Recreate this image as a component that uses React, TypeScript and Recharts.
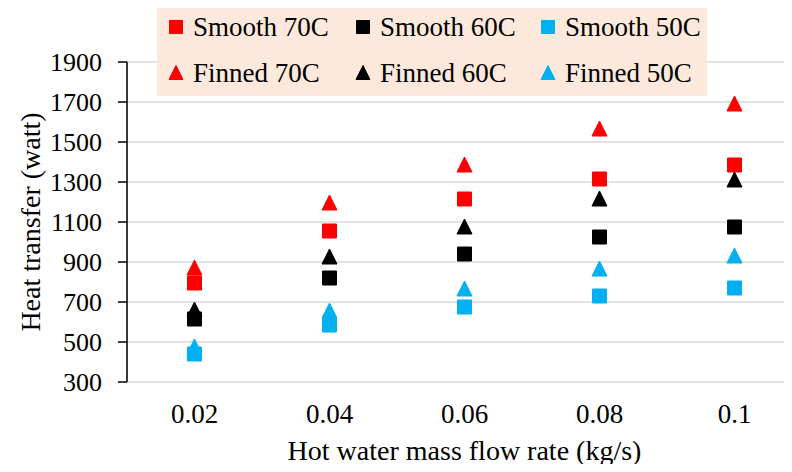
import React from "react";
import {
  ComposedChart,
  Scatter,
  XAxis,
  YAxis,
  CartesianGrid,
} from "recharts";

// flow rate categories (kg/s)
const flowRates = [0.02, 0.04, 0.06, 0.08, 0.1];
// boundaries between categories, where the tick marks and vertical grid sit
const boundaryTicks = [0.01, 0.03, 0.05, 0.07, 0.09, 0.11];
const yTicks = [300, 500, 700, 900, 1100, 1300, 1500, 1700, 1900];

// heat transfer (watt)
const smooth70 = [795, 1055, 1215, 1315, 1385];
const smooth60 = [615, 820, 940, 1025, 1075];
const smooth50 = [440, 585, 675, 730, 770];
const finned70 = [870, 1195, 1385, 1565, 1690];
const finned60 = [660, 925, 1075, 1215, 1310];
const finned50 = [475, 655, 765, 865, 930];

const FONT = "Liberation Serif, serif";

interface Row {
  rate: number;
  smooth70: number;
  smooth60: number;
  smooth50: number;
  finned70: number;
  finned60: number;
  finned50: number;
}

const data: Row[] = flowRates.map((rate, i) => ({
  rate,
  smooth70: smooth70[i],
  smooth60: smooth60[i],
  smooth50: smooth50[i],
  finned70: finned70[i],
  finned60: finned60[i],
  finned50: finned50[i],
}));

type Marker = "square" | "triangle";

const series: { key: keyof Row; name: string; color: string; marker: Marker }[] = [
  { key: "smooth70", name: "Smooth 70C", color: "#FF0000", marker: "square" },
  { key: "smooth60", name: "Smooth 60C", color: "#000000", marker: "square" },
  { key: "smooth50", name: "Smooth 50C", color: "#00B0F0", marker: "square" },
  { key: "finned70", name: "Finned 70C", color: "#FF0000", marker: "triangle" },
  { key: "finned60", name: "Finned 60C", color: "#000000", marker: "triangle" },
  { key: "finned50", name: "Finned 50C", color: "#00B0F0", marker: "triangle" },
];

const markerPath = (marker: Marker, cx: number, cy: number, s: number) => {
  const h = s / 2;
  if (marker === "square") {
    return `M${cx - h},${cy - h}H${cx + h}V${cy + h}H${cx - h}Z`;
  }
  return `M${cx},${cy - h - 1}L${cx + h + 0.5},${cy + h}L${cx - h - 0.5},${cy + h}Z`;
};

const makeShape = (marker: Marker, color: string) => (props: any) => {
  const { cx, cy } = props;
  if (cx == null || cy == null) return <g />;
  return (
    <path
      d={markerPath(marker, cx, cy, 14)}
      fill={color}
      stroke={color}
      strokeWidth={1}
      strokeLinejoin="round"
    />
  );
};

const LegendBox = () => (
  <div
    style={{
      position: "absolute",
      left: 157,
      top: 4,
      width: 550,
      height: 92,
      background: "#FCE9DC",
      display: "grid",
      gridTemplateColumns: "187px 185px 1fr",
      gridAutoRows: "46px",
      paddingLeft: 11,
      boxSizing: "border-box",
      fontFamily: FONT,
      fontSize: 27,
      color: "#000",
    }}
  >
    {series.map((s) => (
      <div
        key={s.key}
        style={{
          display: "flex",
          alignItems: "center",
          whiteSpace: "nowrap",
        }}
      >
        <svg width={16} height={16} style={{ marginRight: 9, flex: "none" }}>
          <path
            d={markerPath(s.marker, 8, 8, 13)}
            fill={s.color}
            stroke={s.color}
            strokeLinejoin="round"
          />
        </svg>
        <span>{s.name}</span>
      </div>
    ))}
  </div>
);

const App: React.FC = () => {
  return (
    <div
      style={{
        margin: -8,
        width: 792,
        height: 472,
        overflow: "hidden",
        position: "relative",
        background: "#fff",
      }}
    >
      <ComposedChart
        width={820}
        height={472}
        data={data}
        margin={{ top: 62, right: 18, bottom: 0, left: 0 }}
      >
        <CartesianGrid stroke="#D9D9D9" strokeWidth={1.5} />
        <XAxis
          type="number"
          dataKey="rate"
          domain={[0.01, 0.11]}
          ticks={boundaryTicks}
          allowDataOverflow
          height={0}
          tick={false}
          tickSize={8}
          stroke="#000"
          strokeWidth={1.5}
          interval={0}
        />
        <XAxis
          xAxisId="labels"
          type="number"
          dataKey="rate"
          domain={[0.01, 0.11]}
          ticks={flowRates}
          allowDataOverflow
          height={90}
          axisLine={false}
          tickLine={false}
          tickSize={0}
          tickMargin={22}
          interval={0}
          tick={{ fill: "#000", fontSize: 27, fontFamily: FONT }}
          label={{
            value: "Hot water mass flow rate (kg/s)",
            position: "insideBottom",
            offset: 12,
            fill: "#000",
            fontSize: 28,
            fontFamily: FONT,
          }}
        />
        <YAxis
          type="number"
          domain={[300, 1900]}
          ticks={yTicks}
          width={127}
          interval={0}
          tickSize={9}
          tickMargin={16}
          stroke="#000"
          strokeWidth={1.5}
          tick={{ fill: "#000", fontSize: 26, fontFamily: FONT }}
          label={{
            value: "Heat transfer (watt)",
            angle: -90,
            position: "insideLeft",
            offset: 30,
            fill: "#000",
            fontSize: 28,
            fontFamily: FONT,
            style: { textAnchor: "middle" },
          }}
        />
        {series.map((s) => (
          <Scatter
            key={s.key}
            dataKey={s.key}
            name={s.name}
            fill={s.color}
            shape={makeShape(s.marker, s.color)}
            isAnimationActive={false}
          />
        ))}
      </ComposedChart>
      <LegendBox />
    </div>
  );
};

export default App;
